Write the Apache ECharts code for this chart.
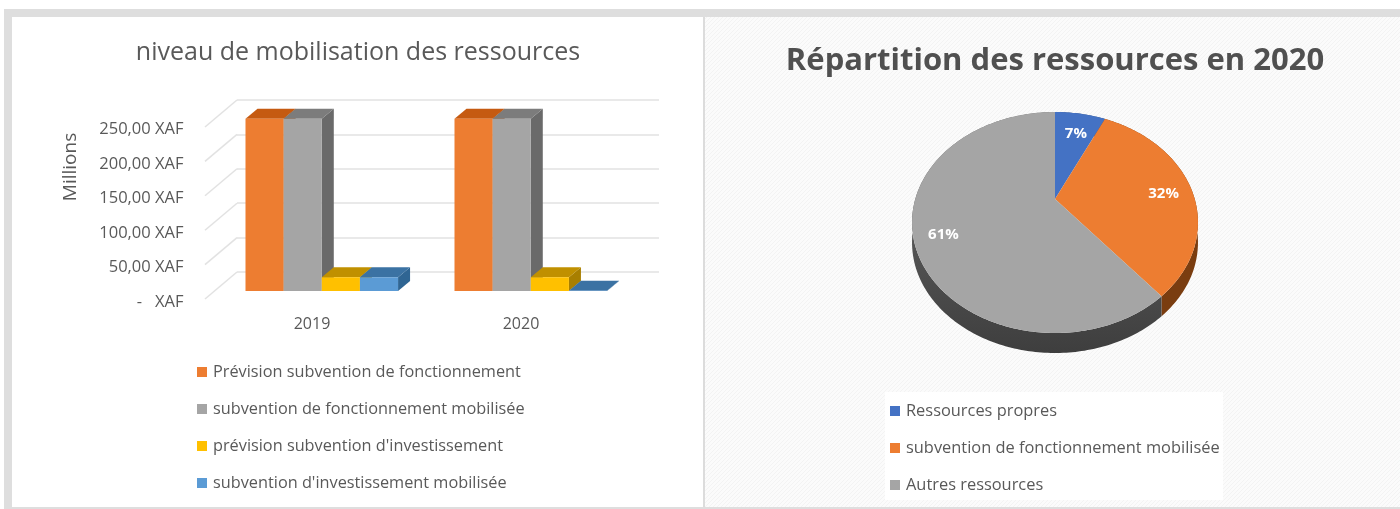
<!DOCTYPE html>
<html>
<head>
<meta charset="utf-8">
<style>html,body{margin:0;padding:0;background:#fff}#main{width:1400px;height:509px}</style>
<script src="https://cdn.jsdelivr.net/npm/echarts@6/dist/echarts.min.js"></script>
</head>
<body>
<div id="main"></div>
<script>
var years = ['2019', '2020'];
var barNames = ['Prévision subvention de fonctionnement', 'subvention de fonctionnement mobilisée', "prévision subvention d'investissement", "subvention d'investissement mobilisée"];
var previsionFonct = [250, 250];
var mobiliseFonct = [250, 250];
var previsionInvest = [20, 20];
var mobiliseInvest = [20, 0.5];
var yTicks = [0, 50, 100, 150, 200, 250];
var yTickLabels = ['-   XAF', '50,00 XAF', '100,00 XAF', '150,00 XAF', '200,00 XAF', '250,00 XAF'];

var pieNames = ['Ressources propres', 'subvention de fonctionnement mobilisée', 'Autres ressources'];
var pieValues = [7, 32, 61];

var FONT = '"Open Sans"';
var TEXT = '#595959';
var barColors = [
  {face: '#ed7d31', top: '#c55a11', side: '#a9500f'},
  {face: '#a5a5a5', top: '#7c7c7c', side: '#6a6a6a'},
  {face: '#ffc000', top: '#c09000', side: '#a87f00'},
  {face: '#5b9bd5', top: '#3b72a3', side: '#2f6593'}
];
var pieColors = [
  {top: '#4472c4', side: '#2b4a80'},
  {top: '#ed7d31', side: '#7a3d10'},
  {top: '#a5a5a5', side: new echarts.graphic.LinearGradient(0, 0, 0, 1, [{offset: 0, color: '#6e6e6e'}, {offset: 1, color: '#3e3e3e'}])}
];

// small hatch for the right panel background
var hatch = document.createElement('canvas');
hatch.width = 4; hatch.height = 4;
var hc = hatch.getContext('2d');
hc.fillStyle = '#fbfbfb'; hc.fillRect(0, 0, 4, 4);
hc.fillStyle = '#f3f3f3';
hc.fillRect(0, 3, 1, 1); hc.fillRect(1, 2, 1, 1); hc.fillRect(2, 1, 1, 1); hc.fillRect(3, 0, 1, 1);

var BAR_W = 0.1825, DX = 12, DY = 10;
function renderBar(params, api) {
  var s = params.seriesIndex - 1;
  var c = barColors[s];
  var band = api.size([1, 0])[0];
  var w = band * BAR_W;
  var base = api.coord([api.value(0), 0]);
  var top = api.coord([api.value(0), api.value(1)]);
  var x0 = base[0] - 66.5 + s * w;
  var x1 = x0 + w;
  return {type: 'group', children: [
    {type: 'polygon', shape: {points: [[x1, top[1]], [x1 + DX, top[1] - DY], [x1 + DX, base[1] - DY], [x1, base[1]]]}, style: {fill: c.side}},
    {type: 'polygon', shape: {points: [[x0, top[1]], [x0 + DX, top[1] - DY], [x1 + DX, top[1] - DY], [x1, top[1]]]}, style: {fill: c.top}},
    {type: 'rect', shape: {x: x0, y: top[1], width: w, height: base[1] - top[1]}, style: {fill: c.face}}
  ]};
}

function renderWallTick(params, api) {
  var p = api.coord([0, api.value(0)]);
  var xl = p[0] - api.size([1, 0])[0] / 2;
  return {type: 'line', shape: {x1: xl, y1: p[1], x2: xl - 32, y2: p[1] + 27}, style: {stroke: '#e2e2e2', lineWidth: 1.5}};
}

// pie seen in perspective: the circle is projected, the apex stays off the ellipse centre
var PIE_X = 1055, PIE_Y = 199, PIE_A = 105.5, PIE_B = 139.7, PIE_K = 0.2127, PIE_H = 20;
function pieProject(deg, r) {
  var t = deg * Math.PI / 180;
  var X = r * Math.sin(t), Y = r * Math.cos(t);
  var d = 1 + PIE_K * Y;
  return [PIE_X + PIE_B * X / d, PIE_Y - PIE_A * Y / d];
}
function renderPie(params, api) {
  var i = params.seriesIndex - 5;
  var total = pieValues.reduce(function (a, b) { return a + b; }, 0);
  var before = pieValues.slice(0, i).reduce(function (a, b) { return a + b; }, 0);
  var a0 = before / total * 360, a1 = (before + api.value(0)) / total * 360;
  var arc = [];
  for (var a = a0; a < a1; a += 1) arc.push(pieProject(a, 1));
  arc.push(pieProject(a1, 1));
  var low = arc.map(function (p) { return [p[0], p[1] + PIE_H]; }).reverse();
  var lab = pieProject((a0 + a1) / 2, 0.8);
  return {type: 'group', children: [
    {type: 'polygon', z2: 1, shape: {points: arc.concat(low)}, style: {fill: pieColors[i].side}},
    {type: 'polygon', z2: 5, shape: {points: [[PIE_X, PIE_Y]].concat(arc)}, style: {fill: pieColors[i].top}},
    {type: 'text', z2: 9, x: lab[0], y: lab[1] + 5, style: {text: api.value(0) + '%', fill: '#fff', font: 'bold 15px ' + FONT, align: 'center', verticalAlign: 'middle'}}
  ]};
}

var barData = [previsionFonct, mobiliseFonct, previsionInvest, mobiliseInvest];
var series = [{
  type: 'custom', name: 'mur', xAxisIndex: 1, yAxisIndex: 1, silent: true, z: 1,
  data: yTicks.map(function (v) { return [v]; }), renderItem: renderWallTick, encode: {y: 0}
}];
barNames.forEach(function (n, s) {
  series.push({
    type: 'custom', name: n, xAxisIndex: 0, yAxisIndex: 0, z: 3,
    itemStyle: {color: barColors[s].face},
    data: years.map(function (y, i) { return [i, barData[s][i]]; }),
    encode: {x: 0, y: 1}, renderItem: renderBar
  });
});
pieNames.forEach(function (n, i) {
  series.push({
    type: 'custom', name: n + (i === 1 ? ' ' : ''), coordinateSystem: 'none', z: 3,
    itemStyle: {color: pieColors[i].top},
    data: [[pieValues[i]]], renderItem: renderPie
  });
});

var chart = echarts.init(document.getElementById('main'));
chart.setOption({
  animation: false,
  backgroundColor: '#fff',
  textStyle: {fontFamily: FONT},
  title: [
    {text: 'niveau de mobilisation des ressources', left: 353, top: 35, textAlign: 'center', textStyle: {fontFamily: FONT, fontSize: 25, fontWeight: 'normal', color: TEXT}},
    {text: 'Répartition des ressources en 2020', left: 1050, top: 41, textAlign: 'center', textStyle: {fontFamily: FONT, fontSize: 31, fontWeight: 'bold', color: '#505050'}}
  ],
  grid: [
    {left: 207.5, width: 418, top: 118.7, height: 172.3},
    {left: 237, width: 422, top: 100, height: 172}
  ],
  xAxis: [
    {type: 'category', gridIndex: 0, data: years, axisLine: {show: false}, axisTick: {show: false},
     axisLabel: {color: TEXT, fontSize: 16, margin: 25, fontFamily: FONT}},
    {type: 'category', gridIndex: 1, data: years, show: false}
  ],
  yAxis: [
    {type: 'value', gridIndex: 0, min: 0, max: 250, interval: 50, axisLine: {show: false}, axisTick: {show: false}, splitLine: {show: false},
     axisLabel: {color: TEXT, fontSize: 16.5, margin: 24, fontFamily: FONT, verticalAlign: 'top', lineHeight: 22,
       formatter: function (v) { return yTickLabels[yTicks.indexOf(v)]; }}},
    {type: 'value', gridIndex: 1, min: 0, max: 250, interval: 50, axisLine: {show: false}, axisTick: {show: false}, axisLabel: {show: false},
     splitLine: {show: true, lineStyle: {color: '#e2e2e2', width: 1.5}}}
  ],
  legend: [
    {data: barNames, orient: 'vertical', left: 192, top: 359, itemWidth: 10, itemHeight: 10, itemGap: 21, icon: 'rect', selectedMode: false,
     textStyle: {color: TEXT, fontSize: 16.3, fontFamily: FONT, padding: [0, 0, 0, 1]}},
    {data: [pieNames[0], pieNames[1] + ' ', pieNames[2]], orient: 'vertical', left: 885, top: 398, itemWidth: 10, itemHeight: 10, itemGap: 21, icon: 'rect', selectedMode: false,
     textStyle: {color: TEXT, fontSize: 16.4, fontFamily: FONT, padding: [0, 0, 0, 1]}}
  ],
  graphic: [
    {type: 'rect', z: -20, silent: true, shape: {x: 704, y: 17, width: 696, height: 490}, style: {fill: {image: hatch, repeat: 'repeat'}}},
    {type: 'rect', z: -19, silent: true, shape: {x: 885, y: 392, width: 338, height: 108}, style: {fill: '#fff'}},
    {type: 'rect', z: -18, silent: true, shape: {x: 4, y: 9, width: 1396, height: 8}, style: {fill: '#dedede'}},
    {type: 'rect', z: -18, silent: true, shape: {x: 4, y: 9, width: 8, height: 500}, style: {fill: '#dedede'}},
    {type: 'rect', z: -18, silent: true, shape: {x: 4, y: 507, width: 1396, height: 2}, style: {fill: '#dedede'}},
    {type: 'rect', z: -18, silent: true, shape: {x: 703, y: 17, width: 2, height: 490}, style: {fill: '#dcdcdc'}},
    {type: 'text', z: 5, silent: true, x: 71, y: 167, rotation: Math.PI / 2, style: {text: 'Millions', fill: TEXT, font: '19px ' + FONT, align: 'center', verticalAlign: 'middle'}}
  ],
  series: series
});
</script>
</body>
</html>
